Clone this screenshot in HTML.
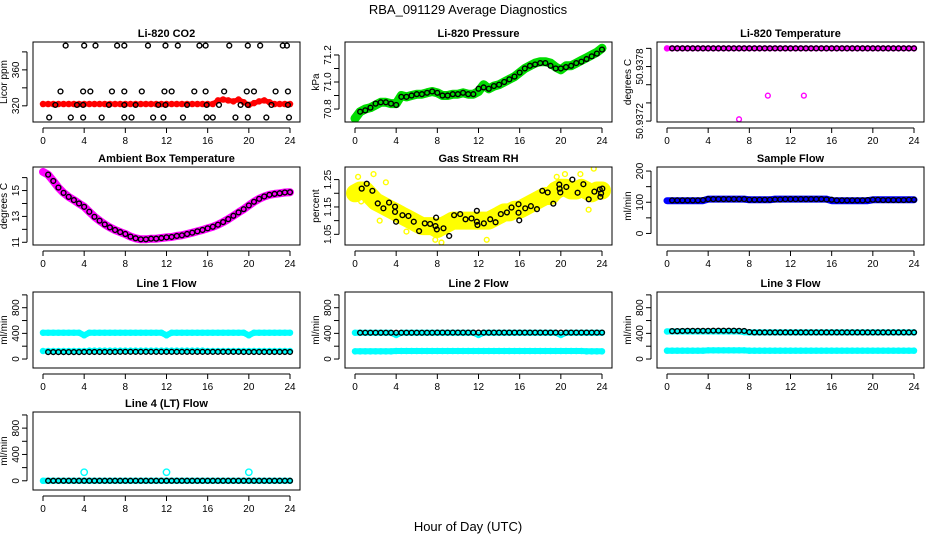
<!DOCTYPE html>
<html><head><meta charset="utf-8"><title>RBA_091129 Average Diagnostics</title>
<style>
html,body{margin:0;padding:0;background:#fff;}
svg{display:block;font-family:"Liberation Sans",Arial,sans-serif;}
</style></head>
<body>
<svg id="chart" width="936" height="540" viewBox="0 0 936 540" xmlns="http://www.w3.org/2000/svg">
<text x="468" y="14" text-anchor="middle" font-size="13">RBA_091129  Average Diagnostics</text>
<text x="468" y="531" text-anchor="middle" font-size="13">Hour of Day (UTC)</text>
</svg>
<script>
// ---- shared categories (hours) ----
const H = [0,0.5,1,1.5,2,2.5,3,3.5,4,4.5,5,5.5,6,6.5,7,7.5,8,8.5,9,9.5,10,10.5,11,11.5,12,12.5,13,13.5,14,14.5,15,15.5,16,16.5,17,17.5,18,18.5,19,19.5,20,20.5,21,21.5,22,22.5,23,23.5,24];
const HB = [0.5,1,1.5,2,2.5,3,3.5,4,4.5,5,5.5,6,6.5,7,7.5,8,8.5,9,9.5,10,10.5,11,11.5,12,12.5,13,13.5,14,14.5,15,15.5,16,16.5,17,17.5,18,18.5,19,19.5,20,20.5,21,21.5,22,22.5,23,23.5,24];
const X_TICKS = [0,4,8,12,16,20,24];

// ---- CO2 ----
const CO2_BAND = [322,322,322,322,322,322,322,322,322,322,322,322,322,322,322,322,322,322,322,322,322,322,322,322,322,322,322,322,322,322,322,322,322,322,326,327,326,325,327,324,321,323,325,326,324,322,322,322,322];
const CO2_PT_H = [2.2,4.0,5.1,7.2,7.9,10.2,11.9,13.1,15.2,15.8,18.1,19.9,21.1,23.3,23.7, 1.7,3.9,4.6,6.7,7.9,9.6,11.8,12.5,14.7,15.8,17.6,19.8,20.5,22.6,23.8, 0.6,2.7,3.9,5.7,7.9,8.6,10.7,11.7,13.6,15.9,16.5,18.7,19.9,21.7,23.9, 1.2,3.3,3.9,6.4,7.9,9.0,11.2,11.9,14.0,15.9,17.1,19.2,19.9,22.2,23.8];
const CO2_PT_V = [387,387,387,387,387,387,387,387,387,387,387,387,387,387,387, 336,336,336,336,336,336,336,336,336,336,336,336,336,336,336, 307,307,307,307,307,307,307,307,307,307,307,307,307,307,307, 321,321,321,321,321,321,321,321,321,321,321,321,321,321,321];

// ---- Pressure ----
const P_BAND = [70.73,70.78,70.80,70.81,70.83,70.85,70.85,70.84,70.84,70.90,70.89,70.90,70.91,70.91,70.92,70.93,70.92,70.90,70.90,70.91,70.91,70.92,70.91,70.91,70.93,70.98,70.95,70.97,70.98,71.00,71.02,71.04,71.07,71.10,71.12,71.14,71.15,71.15,71.14,71.11,71.09,71.12,71.12,71.14,71.16,71.18,71.20,71.22,71.25];
const P_PTS = [70.78,70.79,70.81,70.84,70.85,70.85,70.84,70.83,70.89,70.89,70.90,70.91,70.91,70.92,70.93,70.92,70.90,70.90,70.91,70.91,70.92,70.91,70.91,70.95,70.96,70.95,70.97,70.98,71.00,71.02,71.04,71.07,71.10,71.12,71.13,71.14,71.14,71.12,71.10,71.10,71.11,71.12,71.14,71.15,71.17,71.19,71.21,71.24];

// ---- Li-820 temperature ----
const T_BAND = [50.9380,50.9380,50.9380,50.9380,50.9380,50.9380,50.9380,50.9380,50.9380,50.9380,50.9380,50.9380,50.9380,50.9380,50.9380,50.9380,50.9380,50.9380,50.9380,50.9380,50.9380,50.9380,50.9380,50.9380,50.9380,50.9380,50.9380,50.9380,50.9380,50.9380,50.9380,50.9380,50.9380,50.9380,50.9380,50.9380,50.9380,50.9380,50.9380,50.9380,50.9380,50.9380,50.9380,50.9380,50.9380,50.9380,50.9380,50.9380,50.9380];
const T_OUT_H = [7.0,9.8,13.3];
const T_OUT_V = [50.93722,50.93748,50.93748];

// ---- Ambient box temperature ----
const A_BAND = [16.44,16.23,15.74,15.23,14.82,14.51,14.26,14.0,13.74,13.36,12.97,12.67,12.38,12.15,11.95,11.79,11.64,11.44,11.31,11.23,11.23,11.28,11.28,11.33,11.38,11.41,11.49,11.54,11.64,11.74,11.85,11.95,12.08,12.2,12.36,12.56,12.79,13.05,13.31,13.56,13.85,14.13,14.36,14.54,14.67,14.74,14.79,14.85,14.87];

// ---- Gas stream RH ----
const RH_BAND = [1.20,1.21,1.21,1.19,1.17,1.16,1.15,1.14,1.13,1.12,1.11,1.10,1.09,1.08,1.08,1.08,1.07,1.08,1.09,1.10,1.10,1.10,1.10,1.10,1.10,1.10,1.10,1.11,1.12,1.13,1.13,1.14,1.14,1.15,1.16,1.17,1.18,1.19,1.19,1.21,1.22,1.22,1.21,1.21,1.22,1.21,1.20,1.21,1.21];
const RH_PT_H = [0.65,1.14,1.69,2.21,2.76,3.31,3.89,3.89,3.99,4.61,5.19,5.71,6.23,6.78,7.30,7.82,7.88,7.95,8.60,9.15,9.63,10.22,10.74,11.32,11.84,11.84,11.90,12.52,13.14,13.66,14.17,14.76,15.21,15.89,15.89,15.96,16.54,17.09,17.68,18.20,18.72,19.27,19.85,19.88,19.95,20.53,21.12,21.63,22.19,22.71,23.26,23.78,23.84,23.91,24.03];
const RH_PT_V = [1.217,1.235,1.209,1.163,1.145,1.166,1.151,1.132,1.096,1.120,1.117,1.096,1.062,1.090,1.088,1.080,1.111,1.068,1.072,1.044,1.120,1.124,1.105,1.108,1.136,1.096,1.084,1.090,1.105,1.094,1.124,1.130,1.148,1.160,1.129,1.101,1.145,1.153,1.142,1.209,1.203,1.162,1.232,1.217,1.203,1.223,1.250,1.202,1.233,1.178,1.206,1.214,1.187,1.199,1.217];
const RH_Y_H = [0.3,0.6,1.8,2.4,3.0,5.0,7.8,8.4,12.8,13.5,19.6,20.4,21.9,22.7,23.2];
const RH_Y_V = [1.26,1.17,1.27,1.10,1.24,1.06,1.03,1.02,1.03,1.13,1.26,1.27,1.27,1.14,1.29];

// ---- Sample flow ----
const S_BAND = [105,105,105,105,105,105,105,105,110,110,110,110,110,110,110,110,108,108,108,108,108,110,110,110,110,110,110,110,110,110,110,110,105,105,105,105,105,105,105,105,108,108,108,108,108,108,108,108,108];
const S_PTS = [106,106,106,106,106,106,107,110,110,110,110,110,110,110,110,108,108,108,108,108,109,109,110,110,110,110,110,110,110,110,109,108,106,106,106,106,106,106,107,108,108,107,107,107,107,107,108,108];

// ---- Line flows ----
const L1_HI = [410,410,410,410,410,410,410,410,370,410,410,410,410,410,410,410,410,410,410,410,410,410,410,410,370,410,410,410,410,410,410,410,410,410,410,410,410,410,410,410,370,410,410,410,410,410,410,410,410];
const L1_LO = [125,125,125,125,125,125,125,125,125,130,130,130,130,130,130,130,130,130,130,130,130,130,130,130,130,130,130,130,130,130,130,130,125,125,125,125,125,125,125,125,125,125,125,125,125,125,125,125,125];
const L1_PTS = [108,108,108,108,108,108,108,110,110,110,110,110,110,110,112,112,112,112,112,112,112,112,112,112,112,112,112,112,112,112,112,112,112,112,112,112,112,112,110,110,110,110,110,110,110,110,110,110];
const L2_HI = [410,410,410,410,410,410,410,410,375,410,410,410,410,410,410,410,410,410,410,410,410,410,410,410,375,410,410,410,410,410,410,410,410,410,410,410,410,410,410,410,375,410,410,410,410,410,410,410,410];
const L2_LO = [120,120,120,120,120,120,120,120,125,125,125,125,125,125,125,125,125,125,125,125,125,125,125,125,125,125,125,125,125,125,125,125,125,125,125,125,125,125,125,125,125,125,125,125,125,120,120,120,120];
const L2_PTS = [410,410,410,410,410,410,410,410,410,410,410,410,410,410,410,412,412,412,412,412,412,412,412,412,412,412,412,412,412,412,412,412,412,412,412,412,412,412,412,412,412,412,412,412,412,412,412,412];
const L3_HI = [430,430,430,430,430,430,430,430,430,430,430,430,430,430,430,420,415,415,415,415,415,415,415,415,415,415,415,415,415,415,415,415,415,415,415,415,415,415,415,415,415,415,415,415,415,415,415,415,415];
const L3_LO = [130,130,130,130,130,130,130,130,135,135,135,135,135,135,135,135,130,130,130,130,130,130,130,130,130,130,130,130,130,130,130,130,130,130,130,130,130,130,130,130,130,130,130,130,130,130,130,130,130];
const L3_PTS = [435,435,438,440,440,440,440,440,442,442,442,442,442,440,438,420,415,415,415,415,415,415,415,415,415,415,415,415,415,415,415,415,415,415,415,415,415,415,415,415,415,415,415,415,415,415,415,415];
const L4_BAND = [0,0,0,0,0,0,0,0,0,0,0,0,0,0,0,0,0,0,0,0,0,0,0,0,0,0,0,0,0,0,0,0,0,0,0,0,0,0,0,0,0,0,0,0,0,0,0,0,0];
const L4_PTS = [0,0,0,0,0,0,0,0,0,0,0,0,0,0,0,0,0,0,0,0,0,0,0,0,0,0,0,0,0,0,0,0,0,0,0,0,0,0,0,0,0,0,0,0,0,0,0,0];
const L4_OUT_H = [4,12,20];
const L4_OUT_V = [130,130,130];

const FLOW_TICKS = [0,200,400,600,800,1000];
const FLOW_LABELS = ['0','','400','','800',''];

const NS = 'http://www.w3.org/2000/svg';
const svg = document.getElementById('chart');
const COLS = [33,345,657];
const ROWS = [[42,122],[167,245],[292,368],[412,490]];
const W = 267;

function mk(tag, attrs, parent){
  const e = document.createElementNS(NS, tag);
  for (const k in attrs) e.setAttribute(k, attrs[k]);
  parent.appendChild(e);
  return e;
}

function panel(name, title, col, row, ymin, ymax, yticks, ylabels, ytitle){
  const L = COLS[col], T = ROWS[row][0], B = ROWS[row][1], R = L + W;
  const g = mk('g', {}, svg);
  
  
  const xs = h => L + 10 + h * (W - 20) / 24;
  const ys = v => B - (v - ymin) / (ymax - ymin) * (B - T);
  const clipId = 'clip-' + name;
  const cp = mk('clipPath', {id: clipId}, g);
  mk('rect', {x: L, y: T, width: W, height: B - T}, cp);
  const plot = mk('g', {'clip-path': 'url(#' + clipId + ')'}, g);
  
  
  const t = mk('text', {x: L + W / 2, y: T - 5, 'text-anchor': 'middle', 'font-size': 11, 'font-weight': 'bold'}, g);
  t.textContent = title;
  
  
  const box = mk('rect', {x: L, y: T, width: W, height: B - T, fill: 'none', stroke: '#000', 'stroke-width': 1}, g);
  
  
  const xa = mk('g', {}, g);
  
  
  mk('line', {x1: xs(X_TICKS[0]), x2: xs(X_TICKS[X_TICKS.length - 1]), y1: B + 6, y2: B + 6, stroke: '#000'}, xa);
  X_TICKS.forEach(v => {
    mk('line', {x1: xs(v), x2: xs(v), y1: B + 6, y2: B + 11, stroke: '#000'}, xa);
    const tx = mk('text', {x: xs(v), y: B + 22, 'text-anchor': 'middle', 'font-size': 10}, xa);
    tx.textContent = v;
    
    
  });
  const ya = mk('g', {}, g);
  
  
  mk('line', {x1: L - 6, x2: L - 6, y1: ys(yticks[0]), y2: ys(yticks[yticks.length - 1]), stroke: '#000'}, ya);
  yticks.forEach((v, i) => {
    mk('line', {x1: L - 11, x2: L - 6, y1: ys(v), y2: ys(v), stroke: '#000'}, ya);
    if (ylabels[i]) {
      const tx = mk('text', {x: L - 14, y: ys(v), 'text-anchor': 'middle', 'font-size': 10, transform: 'rotate(-90 ' + (L - 14) + ' ' + ys(v) + ')'}, ya);
      tx.textContent = ylabels[i];
      
      
    }
  });
  const yt = mk('text', {x: L - 26, y: (T + B) / 2, 'text-anchor': 'middle', 'font-size': 10, transform: 'rotate(-90 ' + (L - 26) + ' ' + ((T + B) / 2) + ')'}, g);
  yt.textContent = ytitle;
  
  
  return {plot, xs, ys};
}

function band(p, hs, vs, color, w, name){
  const pts = hs.map((h, i) => p.xs(h).toFixed(1) + ',' + p.ys(vs[i]).toFixed(1)).join(' ');
  const pl = mk('polyline', {points: pts, fill: 'none', stroke: color, 'stroke-width': w, 'stroke-linejoin': 'round', 'stroke-linecap': 'round'}, p.plot);
  
  
  hs.forEach((h, i) => {
    const c = mk('circle', {cx: p.xs(h), cy: p.ys(vs[i]), r: 2.6, fill: 'none', stroke: color, 'stroke-width': 1.3}, p.plot);
    
    
  });
}
function points(p, hs, vs, color, name, r){
  hs.forEach((h, i) => {
    const c = mk('circle', {cx: p.xs(h), cy: p.ys(vs[i]), r: r || 2.4, fill: 'none', stroke: color, 'stroke-width': 1.4}, p.plot);
    
    
  });
}

let p = panel('co2', 'Li-820 CO2', 0, 0, 302, 391, [320,340,360,380], ['320','','360',''], 'Licor ppm');
band(p, H, CO2_BAND, '#ff0000', 5, 'co2-band');
points(p, CO2_PT_H, CO2_PT_V, '#000', 'co2-point');

p = panel('pressure', 'Li-820 Pressure', 1, 0, 70.704, 71.296, [70.8,70.9,71.0,71.1,71.2], ['70.8','','71.0','','71.2'], 'kPa');
band(p, H, P_BAND, '#00dd00', 9, 'pressure-band');
points(p, HB, P_PTS, '#000', 'pressure-point');

p = panel('li-temp', 'Li-820 Temperature', 2, 0, 50.93719, 50.93807, [50.9372,50.9374,50.9376,50.9378,50.9380], ['50.9372','','','50.9378',''], 'degrees C');
band(p, H, T_BAND, '#ff00ff', 5, 'li-temp-band');
points(p, HB, T_BAND.slice(1), '#000', 'li-temp-point');
points(p, T_OUT_H, T_OUT_V, '#ff00ff', 'li-temp-outlier');

p = panel('ambient', 'Ambient Box Temperature', 0, 1, 10.79, 16.82, [11,12,13,14,15,16], ['11','','13','','15',''], 'degrees C');
band(p, H, A_BAND, '#ff00ff', 8, 'ambient-band');
points(p, HB, A_BAND.slice(1), '#000', 'ambient-point');

p = panel('rh', 'Gas Stream RH', 1, 1, 1.011, 1.296, [1.05,1.10,1.15,1.20,1.25], ['1.05','','1.15','','1.25'], 'percent');
band(p, H, RH_BAND, '#ffff00', 18, 'rh-band');
points(p, RH_Y_H, RH_Y_V, '#ffff00', 'rh-yellow-point');
points(p, RH_PT_H, RH_PT_V, '#000', 'rh-point');

p = panel('sample-flow', 'Sample Flow', 2, 1, -37, 213, [0,50,100,150,200], ['0','','100','','200'], 'ml/min');
band(p, H, S_BAND, '#0000ff', 7, 'sample-flow-band');
points(p, HB, S_PTS, '#000', 'sample-flow-point');

p = panel('line1', 'Line 1 Flow', 0, 2, -140, 1045, FLOW_TICKS, FLOW_LABELS, 'ml/min');
band(p, H, L1_HI, '#00ffff', 6, 'line1-high-band');
band(p, H, L1_LO, '#00ffff', 5, 'line1-low-band');
points(p, HB, L1_PTS, '#000', 'line1-point');

p = panel('line2', 'Line 2 Flow', 1, 2, -140, 1045, FLOW_TICKS, FLOW_LABELS, 'ml/min');
band(p, H, L2_HI, '#00ffff', 6, 'line2-high-band');
band(p, H, L2_LO, '#00ffff', 6, 'line2-low-band');
points(p, HB, L2_PTS, '#000', 'line2-point');

p = panel('line3', 'Line 3 Flow', 2, 2, -140, 1045, FLOW_TICKS, FLOW_LABELS, 'ml/min');
band(p, H, L3_HI, '#00ffff', 6, 'line3-high-band');
band(p, H, L3_LO, '#00ffff', 6, 'line3-low-band');
points(p, HB, L3_PTS, '#000', 'line3-point');

p = panel('line4', 'Line 4 (LT) Flow', 0, 3, -140, 1045, FLOW_TICKS, FLOW_LABELS, 'ml/min');
band(p, H, L4_BAND, '#00ffff', 6, 'line4-band');
points(p, HB, L4_PTS, '#000', 'line4-point');
points(p, L4_OUT_H, L4_OUT_V, '#00ffff', 'line4-outlier', 3.2);
</script>
</body></html>
